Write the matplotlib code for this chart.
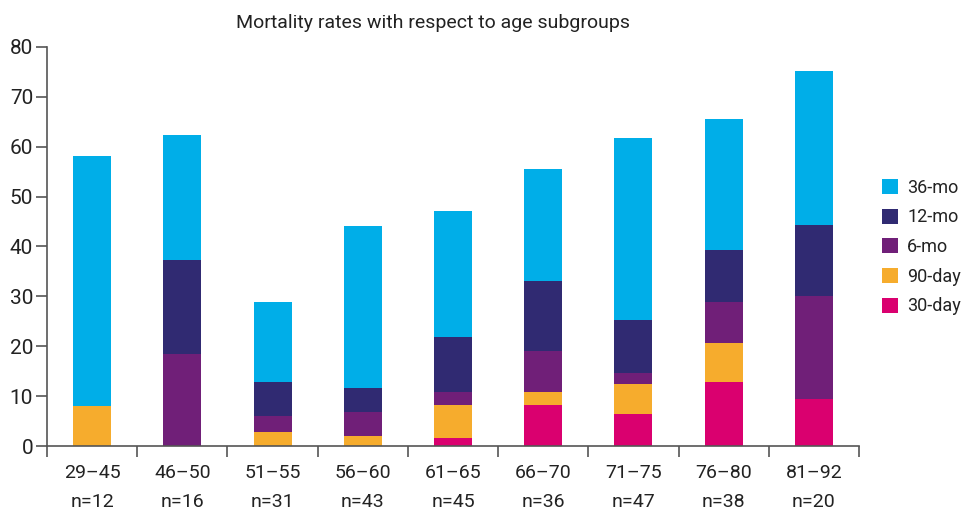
import matplotlib
matplotlib.use("Agg")
import matplotlib.pyplot as plt
import numpy as np
from matplotlib.patches import Patch

plt.rcParams['font.family'] = ['Roboto', 'DejaVu Sans']

categories = ["29–45", "46–50", "51–55", "56–60", "61–65", "66–70", "71–75", "76–80", "81–92"]
n_values = [12, 16, 31, 43, 45, 36, 47, 38, 20]

# cumulative mortality (%)
cum_30day = [0.0, 0.0, 0.0, 0.0, 1.6, 8.2, 6.4, 12.8, 9.4]
cum_90day = [8.0, 0.0, 2.75, 1.95, 8.2, 10.8, 12.4, 20.6, 9.4]
cum_6mo   = [8.0, 18.4, 6.1, 6.8, 10.9, 19.0, 14.6, 28.9, 30.0]
cum_12mo  = [8.0, 37.3, 12.8, 11.6, 21.9, 33.1, 25.3, 39.3, 44.3]
cum_36mo  = [58.2, 62.4, 28.9, 44.1, 47.1, 55.6, 61.8, 65.6, 75.2]

series_names = ["30-day", "90-day", "6-mo", "12-mo", "36-mo"]
colors = ["#DA006F", "#F6AC2D", "#701F78", "#302A72", "#00AEE8"]

cums = [cum_30day, cum_90day, cum_6mo, cum_12mo, cum_36mo]

fig = plt.figure(figsize=(9.64, 5.12), dpi=100)
ax = fig.add_axes([47/964, 1-446/512, (859-47)/964, (446-47)/512])

x = np.arange(len(categories))
prev = np.zeros(len(categories))
for name, c, col in zip(series_names, cums, colors):
    c = np.array(c)
    h = c - prev
    ax.bar(x, h, bottom=prev, width=0.42, color=col, label=name, linewidth=0)
    prev = c

ax.set_xlim(-0.5, len(categories) - 0.5)
ax.set_ylim(0, 80)
ax.set_yticks(np.arange(0, 81, 10))

axis_col = "#555555"
for s in ["top", "right"]:
    ax.spines[s].set_visible(False)
for s in ["left", "bottom"]:
    ax.spines[s].set_color(axis_col)
    ax.spines[s].set_linewidth(1.2)

ax.tick_params(axis="y", direction="out", length=8, width=1.2, color=axis_col,
               labelsize=15, labelcolor="#222222", pad=2)

# x tick marks at category boundaries, labels at centers
ax.set_xticks(np.arange(-0.5, len(categories), 1.0))
ax.set_xticklabels([])
ax.tick_params(axis="x", which="major", direction="out", length=8, width=1.2, color=axis_col)
ax.set_xticks(x, minor=True)
ax.set_xticklabels([f"{c}\nn={n}" for c, n in zip(categories, n_values)], minor=True)
ax.tick_params(axis="x", which="minor", length=0, labelsize=14, labelcolor="#222222", pad=13)
for lbl in ax.get_xticklabels(minor=True):
    lbl.set_linespacing(1.75)

fig.text(433/964, 1-23/512, "Mortality rates with respect to age subgroups",
         ha="center", va="center", fontsize=14, color="#222222")

handles = [Patch(facecolor=col, label=name) for name, col in zip(series_names, colors)][::-1]
fig.legend(handles=handles, loc="center left", bbox_to_anchor=(882/964, 1-247/512),
           frameon=False, fontsize=13, handlelength=0.9, handleheight=0.9,
           handletextpad=0.5, labelspacing=0.65, labelcolor="#222222",
           borderpad=0, borderaxespad=0)

fig.savefig("out.png", dpi=100)
